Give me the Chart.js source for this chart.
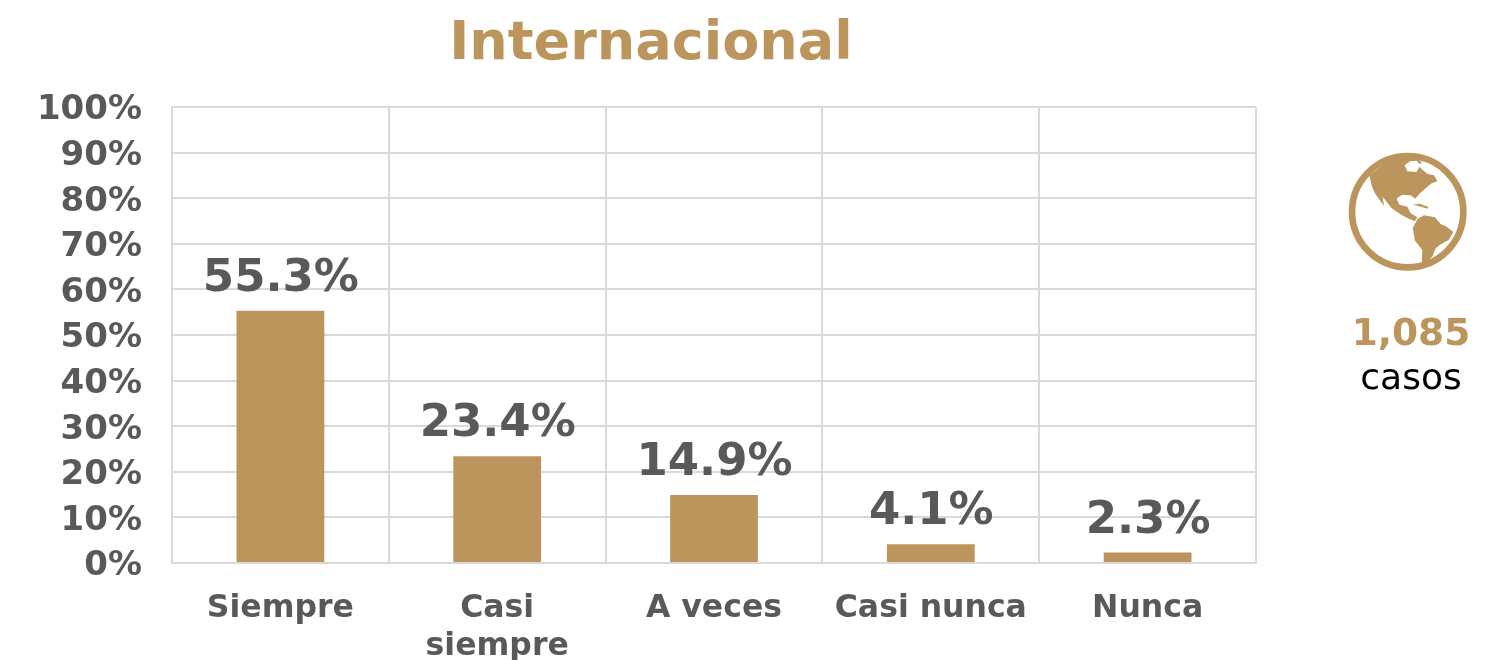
<!DOCTYPE html>
<html>
<head>
<meta charset="utf-8">
<title>Internacional</title>
<script src="https://cdn.jsdelivr.net/npm/chart.js@4/dist/chart.umd.min.js"></script>
<style>
    body { margin: 0; background: #fff; font-family: "DejaVu Sans", sans-serif; }
    #wrap { position: relative; width: 1499px; height: 660px; overflow: hidden; }
    #chart { position: absolute; left: 0; top: 0; }
    .txt { position: absolute; white-space: nowrap; transform: translateX(-50%); line-height: 1; }
    #titulo { left: 651px; top: 14px; font-size: 54px; font-weight: bold; color: #bc955c; }
    #total { left: 1411px; top: 314px; font-size: 37.5px; font-weight: bold; color: #bc955c; }
    #casos { left: 1411px; top: 359px; font-size: 36px; color: #000; }
    #globo { position: absolute; left: 1320px; top: 130px; }
</style>
</head>
<body>
<div id="wrap">
    <canvas id="chart" width="1499" height="660"></canvas>
    <div class="txt" id="titulo">Internacional</div>
    <svg id="globo" width="179" height="280" viewBox="0 0 537 840">
        <circle cx="263" cy="245" r="167" fill="none" stroke="#bc955c" stroke-width="20"/>
        <!-- norteamerica -->
        <path fill="#bc955c" d="M148 136 L156 170 L166 192 L192 228 L188 200 L215 235 L240 252 L262 264 L284 274 L292 262 L272 250 L262 230 L238 224 L230 206 L246 194 L272 196 L286 206 L300 190 L322 170 L335 160 L352 154 L342 136 L322 132 L298 110 L290 126 L262 124 L254 106 L270 94 L290 92 L298 102 L306 98 L285 82 L250 78 L205 92 Z"/>
        <!-- sudamerica -->
        <path fill="#bc955c" d="M278 294 L292 268 L312 256 L345 262 L362 282 L380 290 L400 306 L386 330 L360 344 L346 356 L338 378 L322 396 L305 404 L307 360 L285 332 Z"/>
        <path fill="#bc955c" d="M278 224 L300 221 L325 231 L323 236 L298 229 Z"/>
    </svg>
    <div class="txt" id="total">1,085</div>
    <div class="txt" id="casos">casos</div>
</div>
<script>
var categorias = ['Siempre', ['Casi', 'siempre'], 'A veces', 'Casi nunca', 'Nunca'];
var valores = [55.3, 23.4, 14.9, 4.1, 2.3];
var marcas = [0, 10, 20, 30, 40, 50, 60, 70, 80, 90, 100];

var gris = '#595959';
var dorado = '#bc955c';
var linea = '#d9d9d9';

// etiquetas encima de cada barra
var etiquetas = {
    id: 'etiquetas',
    afterDatasetsDraw: function (chart) {
        var ctx = chart.ctx;
        var barras = chart.getDatasetMeta(0).data;
        ctx.save();
        ctx.font = 'bold 45px "DejaVu Sans"';
        ctx.fillStyle = gris;
        ctx.textAlign = 'center';
        ctx.textBaseline = 'alphabetic';
        barras.forEach(function (barra, i) {
            ctx.fillText(valores[i].toFixed(1) + '%', barra.x + 0.5, barra.y - 20);
        });
        ctx.restore();
    }
};

new Chart(document.getElementById('chart'), {
    type: 'bar',
    plugins: [etiquetas],
    data: {
        labels: categorias,
        datasets: [{
            data: valores,
            backgroundColor: dorado,
            barPercentage: 0.405,
            categoryPercentage: 1
        }]
    },
    options: {
        responsive: false,
        animation: false,
        layout: { padding: { top: 107, right: 243, left: 0, bottom: 0 } },
        plugins: {
            legend: { display: false },
            title: { display: false },
            tooltip: { enabled: false }
        },
        scales: {
            x: {
                afterFit: function (scale) { scale.height = 97; },
                grid: { color: linea, lineWidth: 2, drawTicks: false },
                border: { color: linea, width: 2 },
                ticks: {
                    color: gris,
                    padding: 27,
                    autoSkip: false,
                    maxRotation: 0,
                    font: { family: 'DejaVu Sans', weight: 'bold', size: 31.5, lineHeight: 1.2 }
                }
            },
            y: {
                min: 0,
                max: 100,
                afterFit: function (scale) { scale.width = 172; },
                afterBuildTicks: function (scale) {
                    scale.ticks = marcas.map(function (m) { return { value: m }; });
                },
                grid: { color: linea, lineWidth: 2, drawTicks: false },
                border: { color: linea, width: 2 },
                ticks: {
                    color: gris,
                    padding: 30,
                    labelOffset: 3.5,
                    callback: function (v) { return v + '%'; },
                    font: { family: 'DejaVu Sans', weight: 'bold', size: 34 }
                }
            }
        }
    }
});
</script>
</body>
</html>
